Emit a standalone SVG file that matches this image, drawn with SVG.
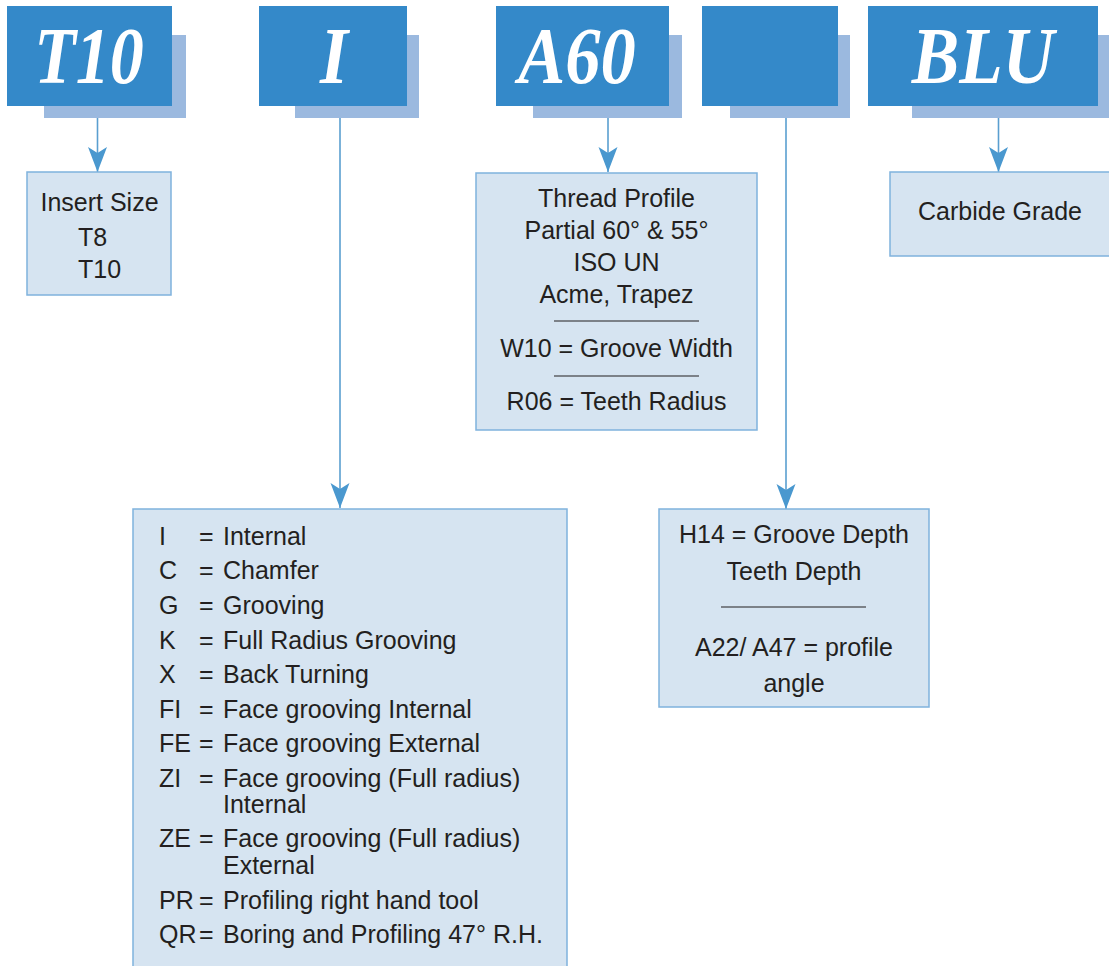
<svg xmlns="http://www.w3.org/2000/svg" width="1109" height="966" viewBox="0 0 1109 966">
<style>
.dark{fill:#3489C9}
.shadow{fill:#9BB9DF}
.code{font-family:"Liberation Serif",serif;font-weight:bold;font-style:italic;font-size:80px;fill:#ffffff;text-anchor:middle}
.box{fill:#D6E4F1;stroke:#7FB2DD;stroke-width:1.5}
.t{font-family:"Liberation Sans",Arial,sans-serif;font-size:25px;fill:#231F20}
.c{text-anchor:middle}
.sep{stroke:#231F20;stroke-width:1.2}
.conn{stroke:#5A9FD0;stroke-width:1.6;fill:none}
</style>
<defs>
<marker id="ah" markerUnits="userSpaceOnUse" markerWidth="26" markerHeight="20" refX="25" refY="10" orient="auto">
<path d="M0,0.5 L25,10 L0,19.5 L6,10 Z" fill="#4A98CF"/>
</marker>
</defs>
<g id="node-T10">
<rect class="shadow" x="44" y="35" width="142" height="83"/>
<rect class="dark" x="7" y="6" width="165" height="100"/>
<text class="code" transform="translate(89,83) scale(0.85,1)">T10</text>
</g>
<g id="node-I">
<rect class="shadow" x="295" y="35" width="124" height="83"/>
<rect class="dark" x="259" y="6" width="148" height="100"/>
<text class="code" transform="translate(334,83) scale(0.9,1)">I</text>
</g>
<g id="node-A60">
<rect class="shadow" x="533" y="35" width="149" height="83"/>
<rect class="dark" x="496" y="6" width="173" height="100"/>
<text class="code" transform="translate(577,83) scale(0.88,1)">A60</text>
</g>
<g id="node-blank">
<rect class="shadow" x="730" y="35" width="120" height="83"/>
<rect class="dark" x="702" y="6" width="136" height="100"/>
</g>
<g id="node-BLU">
<rect class="shadow" x="912" y="35" width="200" height="83"/>
<rect class="dark" x="868" y="6" width="230" height="100"/>
<text class="code" transform="translate(983,83) scale(0.89,1)">BLU</text>
</g>
<g id="connectors">
<line class="conn" x1="97.5" y1="118" x2="97.5" y2="172" marker-end="url(#ah)"/>
<line class="conn" x1="340" y1="118" x2="340" y2="508" marker-end="url(#ah)"/>
<line class="conn" x1="608" y1="118" x2="608" y2="172" marker-end="url(#ah)"/>
<line class="conn" x1="786" y1="118" x2="786" y2="509" marker-end="url(#ah)"/>
<line class="conn" x1="998.5" y1="118" x2="998.5" y2="172" marker-end="url(#ah)"/>
</g>
<g id="node-insert-size">
<rect class="box" x="27" y="172" width="144" height="123"/>
<text class="t c" x="99.5" y="211">Insert Size</text>
<text class="t" x="78" y="246">T8</text>
<text class="t" x="78" y="278">T10</text>
</g>
<g id="node-thread-profile">
<rect class="box" x="476" y="173" width="281" height="257"/>
<text class="t c" x="616.5" y="207">Thread Profile</text>
<text class="t c" x="616.5" y="239">Partial 60° &amp; 55°</text>
<text class="t c" x="616.5" y="271">ISO UN</text>
<text class="t c" x="616.5" y="303">Acme, Trapez</text>
<line class="sep" x1="554" y1="321" x2="699" y2="321"/>
<text class="t c" x="616.5" y="357">W10 = Groove Width</text>
<line class="sep" x1="554" y1="376" x2="699" y2="376"/>
<text class="t c" x="616.5" y="410">R06 = Teeth Radius</text>
</g>
<g id="node-carbide-grade">
<rect class="box" x="890" y="172" width="225" height="84"/>
<text class="t c" x="1000" y="220">Carbide Grade</text>
</g>
<g id="node-types">
<rect class="box" x="133" y="509" width="434" height="470"/>
<text class="t" x="159" y="545">I</text><text class="t" x="199" y="545">=</text><text class="t" x="223" y="545">Internal</text>
<text class="t" x="159" y="579">C</text><text class="t" x="199" y="579">=</text><text class="t" x="223" y="579">Chamfer</text>
<text class="t" x="159" y="614">G</text><text class="t" x="199" y="614">=</text><text class="t" x="223" y="614">Grooving</text>
<text class="t" x="159" y="649">K</text><text class="t" x="199" y="649">=</text><text class="t" x="223" y="649">Full Radius Grooving</text>
<text class="t" x="159" y="683">X</text><text class="t" x="199" y="683">=</text><text class="t" x="223" y="683">Back Turning</text>
<text class="t" x="159" y="718">FI</text><text class="t" x="199" y="718">=</text><text class="t" x="223" y="718">Face grooving Internal</text>
<text class="t" x="159" y="752">FE</text><text class="t" x="199" y="752">=</text><text class="t" x="223" y="752">Face grooving External</text>
<text class="t" x="159" y="787">ZI</text><text class="t" x="199" y="787">=</text><text class="t" x="223" y="787">Face grooving (Full radius)</text>
<text class="t" x="223" y="813">Internal</text>
<text class="t" x="159" y="847">ZE</text><text class="t" x="199" y="847">=</text><text class="t" x="223" y="847">Face grooving (Full radius)</text>
<text class="t" x="223" y="874">External</text>
<text class="t" x="159" y="909">PR</text><text class="t" x="199" y="909">=</text><text class="t" x="223" y="909">Profiling right hand tool</text>
<text class="t" x="159" y="943">QR</text><text class="t" x="199" y="943">=</text><text class="t" x="223" y="943">Boring and Profiling 47° R.H.</text>
</g>
<g id="node-depth">
<rect class="box" x="659" y="509" width="270" height="198"/>
<text class="t c" x="794" y="543">H14 = Groove Depth</text>
<text class="t c" x="794" y="580">Teeth Depth</text>
<line class="sep" x1="721" y1="607" x2="866" y2="607"/>
<text class="t c" x="794" y="656">A22/ A47 = profile</text>
<text class="t c" x="794" y="692">angle</text>
</g>
</svg>
